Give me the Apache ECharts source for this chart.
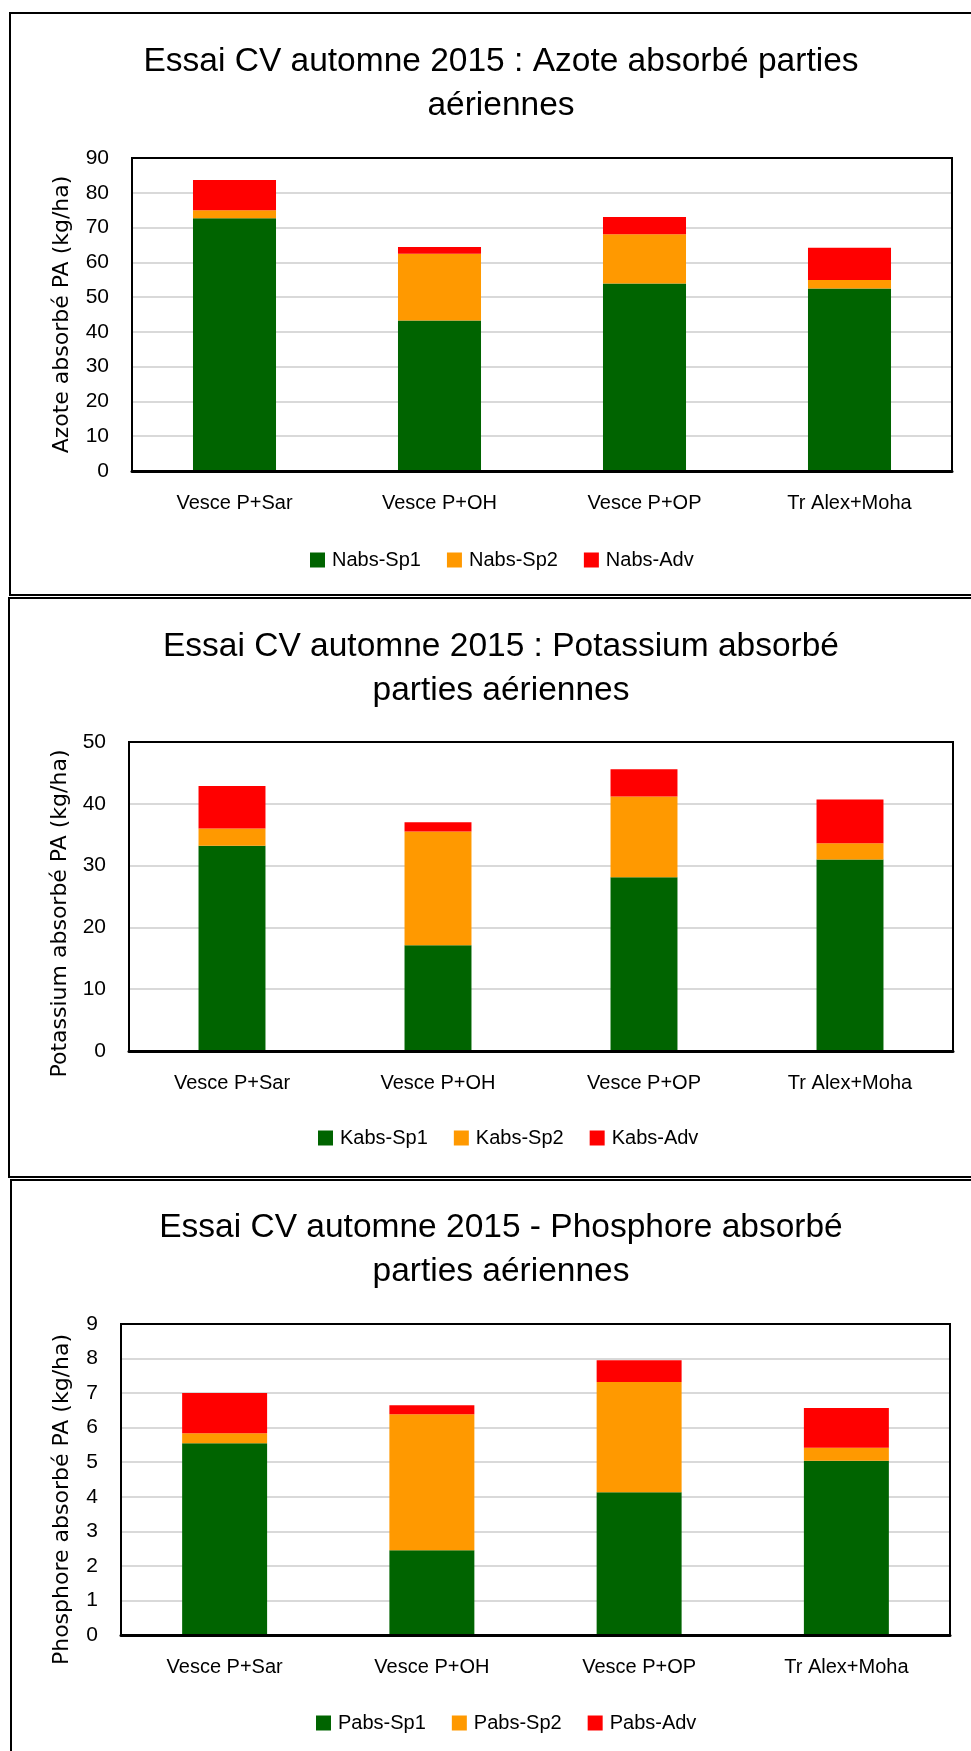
<!DOCTYPE html>
<html>
<head>
<meta charset="utf-8">
<script src="https://cdn.jsdelivr.net/npm/echarts@6/dist/echarts.min.js"></script>
<style>
  html, body { margin: 0; padding: 0; background: #fff; }
  #chart { width: 971px; height: 1751px; }
</style>
</head>
<body>
<div id="chart"></div>
<script>
// categories
const categories = ['Vesce P+Sar', 'Vesce P+OH', 'Vesce P+OP', 'Tr Alex+Moha'];

// azote (kg/ha)
const nSp1 = [72.7, 43.3, 53.9, 52.5];
const nSp2 = [2.3, 19.2, 14.2, 2.4];
const nAdv = [8.7, 1.9, 4.9, 9.3];

// potassium (kg/ha)
const kSp1 = [33.2, 17.1, 28.1, 31.0];
const kSp2 = [2.8, 18.4, 13.1, 2.6];
const kAdv = [6.9, 1.5, 4.4, 7.1];

// phosphore (kg/ha)
const pSp1 = [5.55, 2.45, 4.13, 5.04];
const pSp2 = [0.29, 3.94, 3.19, 0.38];
const pAdv = [1.16, 0.26, 0.63, 1.15];

const colors = ['#006400', '#FF9900', '#FF0000'];
const txt = '#000';
const font = 'Liberation Sans';

// layout of the three blocks
const blocks = [
    {
        title: 'Essai CV automne 2015 : Azote absorbé parties\naériennes',
        titleTop: 35,
        yName: 'Azote absorbé PA (kg/ha)',
        nameGap: 59, namePad: [0, 0, 0, 0],
        max: 90, interval: 10,
        grid: { left: 132, right: 19, top: 158, height: 313 },
        barWidth: '40.5%',
        legendLeft: 305, legendTop: 545,
        names: ['Nabs-Sp1', 'Nabs-Sp2', 'Nabs-Adv'],
        data: [nSp1, nSp2, nAdv]
    },
    {
        title: 'Essai CV automne 2015 : Potassium absorbé\nparties aériennes',
        titleTop: 620,
        yName: 'Potassium absorbé PA (kg/ha)',
        nameGap: 56, namePad: [0, 34, 0, 0],
        max: 50, interval: 10,
        grid: { left: 129, right: 18, top: 742, height: 309 },
        barWidth: '32.5%',
        legendLeft: 313, legendTop: 1123,
        names: ['Kabs-Sp1', 'Kabs-Sp2', 'Kabs-Adv'],
        data: [kSp1, kSp2, kAdv]
    },
    {
        title: 'Essai CV automne 2015 - Phosphore absorbé\nparties aériennes',
        titleTop: 1201,
        yName: 'Phosphore absorbé PA (kg/ha)',
        nameGap: 48, namePad: [0, 40, 0, 0],
        max: 9, interval: 1,
        grid: { left: 121, right: 21, top: 1324, height: 311 },
        barWidth: '41%',
        legendLeft: 311, legendTop: 1708,
        names: ['Pabs-Sp1', 'Pabs-Sp2', 'Pabs-Adv'],
        data: [pSp1, pSp2, pAdv]
    }
];

const option = {
    animation: false,
    backgroundColor: '#fff',
    title: [], grid: [], xAxis: [], yAxis: [], legend: [], series: [],
    graphic: [
        // cadres des graphiques
        { type: 'rect', shape: { x: 10, y: 13, width: 980, height: 582 }, style: { fill: 'none', stroke: '#000', lineWidth: 2 } },
        { type: 'rect', shape: { x: 9, y: 598, width: 980, height: 579 }, style: { fill: 'none', stroke: '#000', lineWidth: 2 } },
        { type: 'rect', shape: { x: 11, y: 1180, width: 980, height: 600 }, style: { fill: 'none', stroke: '#000', lineWidth: 2 } }
    ]
};

blocks.forEach((b, i) => {
    option.title.push({
        text: b.title,
        left: 496,
        top: b.titleTop,
        textAlign: 'center',
        textStyle: { fontFamily: font, fontSize: 33.5, fontWeight: 'normal', lineHeight: 44, color: txt }
    });
    option.grid.push(Object.assign({ show: true, borderColor: '#000', borderWidth: 2, z: 3 }, b.grid));
    option.xAxis.push({
        type: 'category',
        gridIndex: i,
        data: categories,
        axisLine: { lineStyle: { color: '#000', width: 3 } },
        axisTick: { show: false },
        axisLabel: { fontFamily: font, fontSize: 20, color: txt, margin: 22 }
    });
    option.yAxis.push({
        type: 'value',
        gridIndex: i,
        min: 0, max: b.max, interval: b.interval,
        name: b.yName,
        nameLocation: 'middle',
        nameGap: b.nameGap,
        nameTextStyle: { fontFamily: 'DejaVu Sans', fontSize: 22, color: txt, padding: b.namePad },
        axisLine: { show: false },
        axisTick: { show: false },
        axisLabel: { fontFamily: font, fontSize: 21, color: txt, margin: 23 },
        splitLine: { lineStyle: { color: '#D9D9D9', width: 2 } }
    });
    option.legend.push({
        data: b.names,
        left: b.legendLeft,
        top: b.legendTop,
        icon: 'rect',
        itemWidth: 15, itemHeight: 15, itemGap: 26,
        textStyle: { fontFamily: font, fontSize: 20, color: txt, lineHeight: 20, padding: [0, 0, 0, 2] }
    });
    b.names.forEach((n, j) => {
        option.series.push({
            name: n,
            type: 'bar',
            stack: 'blk' + i,
            xAxisIndex: i, yAxisIndex: i,
            barWidth: b.barWidth,
            itemStyle: { color: colors[j] },
            data: b.data[j]
        });
    });
});

const chart = echarts.init(document.getElementById('chart'));
chart.setOption(option);
</script>
</body>
</html>
